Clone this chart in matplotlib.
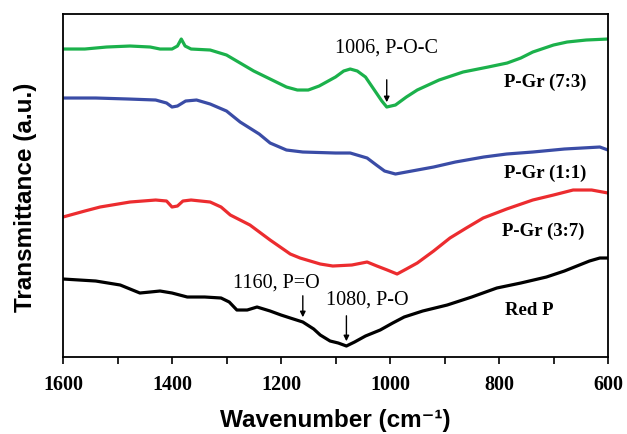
import numpy as np
import matplotlib
matplotlib.use("Agg")
import matplotlib.pyplot as plt
from matplotlib.ticker import MultipleLocator

# FTIR spectra: wavenumber (cm-1) and offset transmittance (a.u.)
wn_73 = [1600, 1560, 1520, 1477, 1440, 1422, 1400, 1390, 1383, 1376, 1365, 1330, 1300, 1275,
         1250, 1220, 1190, 1170, 1150, 1130, 1100, 1085, 1073, 1060, 1045, 1030, 1015, 1006,
         990, 970, 950, 910, 866, 820, 785, 760, 738, 700, 675, 640, 600]
tr_73 = [308, 308, 310, 311, 310, 308, 308, 311, 318, 311, 308, 307, 302, 294,
         286, 278, 270, 267, 267, 271, 280, 286, 288, 286, 280, 268, 256, 250,
         252, 260, 267, 277, 285, 290, 294, 299, 305, 312, 315, 317, 318]

wn_11 = [1600, 1540, 1480, 1430, 1410, 1400, 1390, 1375, 1355, 1330, 1300, 1275, 1240, 1220,
         1190, 1160, 1100, 1073, 1042, 1025, 1010, 990, 960, 920, 880, 828, 786, 738, 680,
         615, 600]
tr_11 = [259, 259, 258, 257, 254, 250, 251, 256, 257, 253, 246, 235, 223, 214,
         207, 205, 204, 204, 199, 192, 186, 183, 186, 190, 195, 200, 203, 205, 208,
         210, 207]

wn_37 = [1600, 1560, 1532, 1477, 1430, 1410, 1400, 1390, 1380, 1365, 1330, 1310, 1293, 1257,
         1220, 1183, 1165, 1128, 1105, 1070, 1042, 1024, 1005, 987, 970, 950, 920, 890,
         860, 829, 786, 738, 700, 664, 630, 600]
tr_37 = [140, 146, 150, 155, 157, 156, 150, 151, 156, 157, 155, 150, 142, 132,
         117, 103, 99, 93, 91, 92, 95, 91, 87, 83, 88, 94, 106, 119,
         129, 139, 148, 157, 162, 167, 167, 164]

wn_rp = [1600, 1540, 1495, 1459, 1440, 1422, 1400, 1372, 1340, 1310, 1295, 1281, 1262, 1244,
         1220, 1200, 1183, 1160, 1140, 1128, 1110, 1095, 1080, 1065, 1045, 1018, 995, 974,
         940, 895, 850, 804, 760, 713, 680, 634, 615, 600]
tr_rp = [78, 76, 72, 64, 65, 66, 64, 60, 60, 59, 55, 47, 47, 50,
         46, 42, 39, 35, 28, 22, 16, 14, 11, 15, 21, 27, 34, 40,
         46, 52, 60, 69, 74, 80, 86, 96, 99, 99]

labels = ["P-Gr (7:3)", "P-Gr (1:1)", "P-Gr (3:7)", "Red P"]
colors = ["#1bb14b", "#3a4ca6", "#ec2c2f", "#000000"]

serif = ["Liberation Serif", "DejaVu Serif"]
sans = ["Liberation Sans", "DejaVu Sans"]

fig = plt.figure(figsize=(6.27, 4.34), dpi=100)
ax = fig.add_axes([0.1005, 0.1774, 0.8692, 0.7903])

series = [(wn_73, tr_73), (wn_11, tr_11), (wn_37, tr_37), (wn_rp, tr_rp)]
for (w, t), c in zip(series, colors):
    ax.plot(w, t, color=c, lw=2.3, solid_joinstyle="round")

ax.set_xlim(1600, 600)
ax.set_ylim(0, 343)
ax.xaxis.set_major_locator(MultipleLocator(200))
ax.xaxis.set_minor_locator(MultipleLocator(100))
ax.tick_params(axis="x", which="both", direction="out", length=5, width=1.2, pad=8)
ax.set_yticks([])
for s in ax.spines.values():
    s.set_linewidth(1.3)
for lab in ax.get_xticklabels():
    lab.set_fontfamily(serif)
    lab.set_fontweight("bold")
    lab.set_fontsize(14.5)

ax.set_xlabel("Wavenumber (cm\u207b\u00b9)", fontfamily=sans, fontweight="bold",
              fontsize=17.5, labelpad=10)
ax.set_ylabel("Transmittance (a.u.)", fontfamily=sans, fontweight="bold",
              fontsize=17.5, labelpad=19)
ax.yaxis.label.set_y(0.466)

# curve labels
label_pos = [(716, 275), (716, 184), (718, 126), (745, 47)]
for lab, (x, y) in zip(labels, label_pos):
    ax.text(x, y, lab, fontfamily=serif, fontweight="bold", fontsize=13.5,
            ha="center", va="center")

# peak annotations
arrow = dict(arrowstyle="-|>", color="black", lw=1, mutation_scale=8)
ax.text(1006, 309, "1006, P-O-C", fontfamily=serif, fontsize=14.5,
        ha="center", va="center")
ax.annotate("", xy=(1006, 252), xytext=(1006, 280), arrowprops=arrow)
ax.text(1209, 74, "1160, P=O", fontfamily=serif, fontsize=14.5,
        ha="center", va="center")
ax.annotate("", xy=(1160, 37), xytext=(1160, 64), arrowprops=arrow)
ax.text(1042, 57, "1080, P-O", fontfamily=serif, fontsize=14.5,
        ha="center", va="center")
ax.annotate("", xy=(1080, 13), xytext=(1080, 44), arrowprops=arrow)

fig.savefig("out.png", dpi=100)
